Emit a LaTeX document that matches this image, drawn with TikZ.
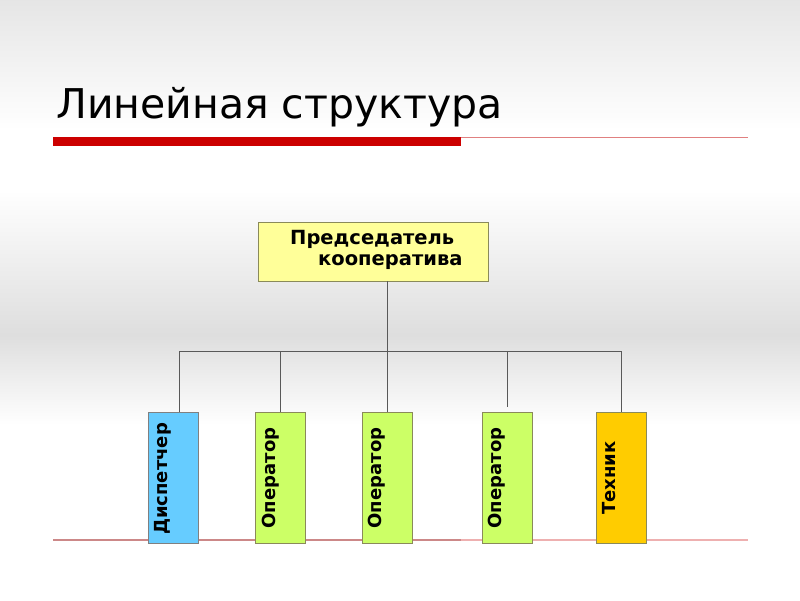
\documentclass[tikz,border=0pt]{standalone}
\usepackage{fontspec}
\setmainfont{DejaVu Sans}
\newfontfamily\boxfont{DejaVu Sans}
\definecolor{cblue}{HTML}{66CCFF}
\definecolor{cgreen}{HTML}{CCFF66}
\definecolor{corange}{HTML}{FFCC00}
\definecolor{cyel}{HTML}{FFFF99}
\definecolor{cred}{HTML}{CC0000}
\definecolor{cthin}{HTML}{E08080}
\definecolor{cbot}{HTML}{CC8888}
\definecolor{cbot2}{HTML}{EEB0B0}
\definecolor{cedge}{HTML}{8A8A5A}
\begin{document}
\begin{tikzpicture}[x=1pt,y=-1pt,
  conn/.style={draw=black!65, line width=0.8pt},
  topbox/.style={draw=cedge, fill=cyel, line width=0.8pt, minimum width=230pt, minimum height=59pt, inner sep=0pt},
  subbox/.style={draw=cedge, line width=0.8pt, minimum width=50pt, minimum height=131pt, inner sep=0pt},
  vtext/.style={rotate=90, font=\boxfont\bfseries\fontsize{18}{20}\selectfont, inner sep=0pt}]
\useasboundingbox (0,0) rectangle (800,600);
% background
\fill[white] (0,0) rectangle (800,600);
\shade[top color=black!10, bottom color=white] (0,0) rectangle (800,130);
\shade[top color=white, bottom color=black!13] (0,190) rectangle (800,335);
\shade[top color=black!13, bottom color=white] (0,335) rectangle (800,425);
% title
\node[anchor=base west, inner sep=0pt, font=\fontsize{41}{44}\selectfont] (title) at (56,118) {Линейная структура};
\fill[cred] (53,137) rectangle (461,146);
\draw[cthin, line width=0.9pt] (461,137) -- (748,137);
% bottom line
\draw[cbot, line width=1.3pt] (53,540) -- (461,540);
\draw[cbot2, line width=1.3pt] (461,540) -- (748,540);
% top box
\node[topbox] (head) at (373,251.5) {};
\node[anchor=base west, inner sep=0pt, font=\boxfont\bfseries\fontsize{19.5}{22}\selectfont] (h1) at (290,244) {Председатель};
\node[anchor=base west, inner sep=0pt, font=\boxfont\bfseries\fontsize{19.5}{22}\selectfont] (h2) at (318,265) {кооператива};
% sub boxes
\node[subbox, fill=cblue, draw=black!50] (b1) at (173,478) {};
\node[subbox, fill=cgreen] (b2) at (280.5,478) {};
\node[subbox, fill=cgreen] (b3) at (387,478) {};
\node[subbox, fill=cgreen] (b4) at (507,478) {};
\node[subbox, fill=corange] (b5) at (621,478) {};
\node[vtext, anchor=north] (t1) at (154,479) {Диспетчер};
\node[vtext, anchor=north] (t2) at (262,478) {Оператор};
\node[vtext, anchor=north] (t3) at (368,478) {Оператор};
\node[vtext, anchor=north] (t4) at (488,478) {Оператор};
\node[vtext, anchor=north] (t5) at (602,478) {Техник};
% connectors
\coordinate (j) at (387,351);
\coordinate (l) at (179,351);
\coordinate (r) at (621,351);
\coordinate (d4) at (507,407);
\draw[conn] (head.south -| j) -- (j);
\draw[conn] (l) -- (r);
\draw[conn] (l) -- (b1.north -| l);
\draw[conn] (280,351) -- (b2.north -| 280,0);
\draw[conn] (j) -- (b3.north -| j);
\draw[conn] (507,351) -- (d4);
\draw[conn] (r) -- (b5.north -| r);
\end{tikzpicture}
\end{document}
